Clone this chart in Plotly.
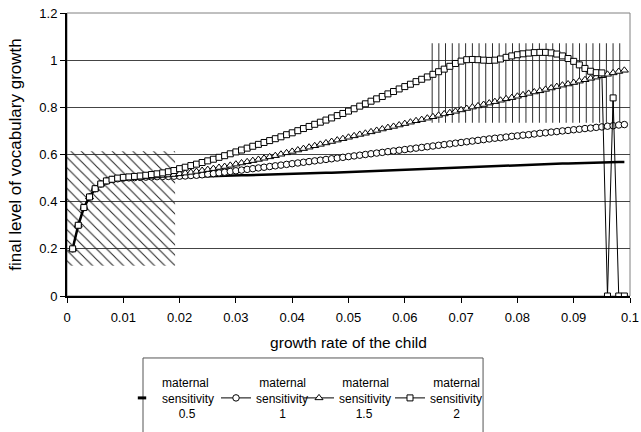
import plotly.graph_objects as go

# growth rate of the child: 0.001 ... 0.099
growth_rate = [round(i / 1000, 3) for i in range(1, 100)]

sens_05 = [0.200, 0.300, 0.375, 0.420, 0.455, 0.475, 0.487, 0.494, 0.497, 0.499,
           0.500, 0.501, 0.501, 0.502, 0.502, 0.503, 0.503, 0.504, 0.504, 0.505,
           0.505, 0.506, 0.506, 0.507, 0.508, 0.508, 0.509, 0.510, 0.510, 0.511,
           0.512, 0.512, 0.513, 0.514, 0.514, 0.515, 0.516, 0.517, 0.517, 0.518,
           0.519, 0.520, 0.520, 0.521, 0.522, 0.523, 0.523, 0.524, 0.525, 0.526,
           0.527, 0.528, 0.529, 0.530, 0.531, 0.532, 0.533, 0.534, 0.535, 0.536,
           0.537, 0.538, 0.539, 0.540, 0.541, 0.542, 0.543, 0.544, 0.545, 0.546,
           0.547, 0.548, 0.549, 0.550, 0.551, 0.552, 0.553, 0.554, 0.555, 0.556,
           0.557, 0.557, 0.558, 0.559, 0.560, 0.560, 0.561, 0.562, 0.562, 0.563,
           0.564, 0.564, 0.565, 0.566, 0.566, 0.567, 0.567, 0.568, 0.568]

sens_1 = [0.200, 0.300, 0.375, 0.420, 0.455, 0.475, 0.487, 0.494, 0.497, 0.500,
          0.501, 0.502, 0.503, 0.504, 0.505, 0.506, 0.507, 0.507, 0.508, 0.508,
          0.509, 0.511, 0.512, 0.514, 0.517, 0.519, 0.522, 0.525, 0.528, 0.531,
          0.534, 0.537, 0.540, 0.543, 0.546, 0.549, 0.552, 0.555, 0.558, 0.561,
          0.564, 0.567, 0.570, 0.573, 0.576, 0.579, 0.582, 0.585, 0.588, 0.591,
          0.594, 0.597, 0.600, 0.603, 0.606, 0.609, 0.612, 0.615, 0.618, 0.621,
          0.624, 0.627, 0.630, 0.633, 0.636, 0.639, 0.642, 0.645, 0.648, 0.651,
          0.654, 0.657, 0.660, 0.663, 0.666, 0.669, 0.671, 0.674, 0.677, 0.679,
          0.682, 0.684, 0.687, 0.690, 0.692, 0.695, 0.697, 0.700, 0.702, 0.705,
          0.707, 0.710, 0.712, 0.715, 0.717, 0.720, 0.722, 0.725, 0.727]

sens_15 = [0.200, 0.300, 0.375, 0.420, 0.455, 0.475, 0.487, 0.494, 0.497, 0.500,
           0.501, 0.502, 0.503, 0.505, 0.507, 0.509, 0.511, 0.513, 0.515, 0.518,
           0.521, 0.524, 0.528, 0.532, 0.536, 0.540, 0.545, 0.549, 0.554, 0.559,
           0.564, 0.569, 0.574, 0.579, 0.584, 0.590, 0.595, 0.601, 0.607, 0.613,
           0.619, 0.625, 0.631, 0.637, 0.643, 0.649, 0.655, 0.661, 0.667, 0.673,
           0.679, 0.685, 0.690, 0.696, 0.702, 0.708, 0.714, 0.719, 0.725, 0.731,
           0.737, 0.743, 0.748, 0.754, 0.760, 0.766, 0.772, 0.777, 0.783, 0.789,
           0.795, 0.801, 0.806, 0.812, 0.818, 0.824, 0.830, 0.836, 0.841, 0.847,
           0.853, 0.859, 0.865, 0.870, 0.876, 0.882, 0.888, 0.894, 0.899, 0.905,
           0.911, 0.917, 0.923, 0.928, 0.934, 0.940, 0.946, 0.952, 0.957]

sens_2 = [0.200, 0.300, 0.375, 0.420, 0.455, 0.475, 0.488, 0.495, 0.500, 0.503,
          0.505, 0.507, 0.509, 0.512, 0.515, 0.518, 0.522, 0.527, 0.532, 0.540,
          0.546, 0.553, 0.559, 0.566, 0.573, 0.580, 0.588, 0.595, 0.603, 0.611,
          0.619, 0.627, 0.635, 0.643, 0.651, 0.659, 0.667, 0.675, 0.684, 0.692,
          0.701, 0.710, 0.719, 0.728, 0.737, 0.746, 0.755, 0.765, 0.774, 0.784,
          0.794, 0.805, 0.815, 0.826, 0.836, 0.846, 0.857, 0.867, 0.878, 0.888,
          0.898, 0.909, 0.919, 0.929, 0.940, 0.951, 0.962, 0.974, 0.986, 0.996,
          1.002, 1.003, 1.002, 1.000, 0.999, 1.000, 1.005, 1.012, 1.018, 1.023,
          1.027, 1.030, 1.032, 1.033, 1.033, 1.031, 1.026, 1.018, 1.007, 0.995,
          0.980, 0.965, 0.953, 0.947, 0.946, 0.000, 0.840, 0.000, 0.000]

NB = "\u00a0"
series_names = ["maternal<br>sensitivity<br>" + NB * 5 + "0.5",
                NB + "maternal<br>sensitivity<br>" + NB * 7 + "1",
                NB + "maternal<br>sensitivity<br>" + NB * 5 + "1.5",
                NB + "maternal<br>sensitivity<br>" + NB * 7 + "2"]

x_ticks = [0, 0.01, 0.02, 0.03, 0.04, 0.05, 0.06, 0.07, 0.08, 0.09, 0.1]
x_tick_text = ["0", "0.01", "0.02", "0.03", "0.04", "0.05", "0.06", "0.07", "0.08", "0.09", "0.1"]
y_ticks = [0, 0.2, 0.4, 0.6, 0.8, 1.0, 1.2]
y_tick_text = ["0", "0.2", "0.4", "0.6", "0.8", "1", "1.2"]

# highlighted regions: [x0, x1], [y0, y1]
hatch_x = [0.0, 0.0192]
hatch_y = [0.128, 0.614]
vline_x = [0.0645, 0.0985]
vline_y = [0.735, 1.072]

fig = go.Figure()

fig.add_trace(go.Bar(
    x=[(hatch_x[0] + hatch_x[1]) / 2], y=[hatch_y[1] - hatch_y[0]], base=[hatch_y[0]],
    width=[hatch_x[1] - hatch_x[0]], showlegend=False, hoverinfo="skip",
    marker=dict(color="rgba(0,0,0,0)", line=dict(width=0),
                pattern=dict(shape="\\", size=7.3, solidity=0.14,
                             fgcolor="#222", bgcolor="rgba(0,0,0,0)", fillmode="replace"))))
fig.add_trace(go.Bar(
    x=[(vline_x[0] + vline_x[1]) / 2], y=[vline_y[1] - vline_y[0]], base=[vline_y[0]],
    width=[vline_x[1] - vline_x[0]], showlegend=False, hoverinfo="skip",
    marker=dict(color="rgba(0,0,0,0)", line=dict(width=0),
                pattern=dict(shape="|", size=6.7, solidity=0.15,
                             fgcolor="#222", bgcolor="rgba(0,0,0,0)", fillmode="replace"))))

# maternal sensitivity 0.5: thick line; its legend key is a short dash (legend-only proxy)
fig.add_trace(go.Scatter(x=growth_rate, y=sens_05, mode="lines", name=series_names[0],
                         showlegend=False, legendgroup="s05",
                         line=dict(color="black", width=2.5)))
fig.add_trace(go.Scatter(x=[None], y=[None], mode="markers", name=series_names[0],
                         legendgroup="s05", legendwidth=49, hoverinfo="skip",
                         marker=dict(symbol="line-ew", size=6,
                                     line=dict(color="black", width=3))))
fig.add_trace(go.Scatter(x=growth_rate, y=sens_1, mode="lines+markers", name=series_names[1],
                         legendwidth=38,
                         line=dict(color="black", width=1),
                         marker=dict(symbol="circle", size=6.5, color="white",
                                     line=dict(color="black", width=1))))
fig.add_trace(go.Scatter(x=growth_rate, y=sens_15, mode="lines+markers", name=series_names[2],
                         legendwidth=46,
                         line=dict(color="black", width=1),
                         marker=dict(symbol="triangle-up", size=7, color="white",
                                     line=dict(color="black", width=1))))
fig.add_trace(go.Scatter(x=growth_rate, y=sens_2, mode="lines+markers", name=series_names[3],
                         legendwidth=52,
                         line=dict(color="black", width=1),
                         marker=dict(symbol="square", size=6, color="white",
                                     line=dict(color="black", width=1))))

font_family = "Liberation Sans, Arial, sans-serif"

fig.update_layout(
    width=641, height=432,
    margin=dict(l=67, r=11, t=13, b=136, autoexpand=False),
    paper_bgcolor="white", plot_bgcolor="white",
    barmode="overlay",
    font=dict(family=font_family, color="black", size=13),
    xaxis=dict(range=[0, 0.1], tickvals=x_ticks, ticktext=x_tick_text,
               ticks="outside", ticklen=5, tickcolor="black", tickwidth=1,
               showline=True, linecolor="black", linewidth=1.5,
               showgrid=False, zeroline=False, ticklabelstandoff=4,
               ticklabeloverflow="allow",
               tickfont=dict(size=13), automargin=False,
               title=dict(text="growth rate of the child", font=dict(size=15.5), standoff=13)),
    yaxis=dict(range=[0, 1.2], tickvals=y_ticks, ticktext=y_tick_text,
               ticks="outside", ticklen=5, tickcolor="black", tickwidth=1,
               showline=True, linecolor="black", linewidth=2,
               showgrid=True, gridcolor="#444", gridwidth=1, zeroline=False,
               ticklabeloverflow="allow",
               tickfont=dict(size=13), automargin=False,
               title=dict(text="final level of vocabulary growth", font=dict(size=17), standoff=13)),
    legend=dict(orientation="h", x=0.0977, y=-0.2544, xanchor="left", yanchor="top",
                font=dict(size=12, family=font_family), bgcolor="rgba(0,0,0,0)",
                borderwidth=0, valign="middle", tracegroupgap=0, itemclick=False,
                itemdoubleclick=False),
    shapes=[
        dict(type="rect", xref="paper", yref="paper", x0=0, x1=1, y0=0, y1=1,
             line=dict(color="#808080", width=1), layer="below"),
        dict(type="rect", xref="paper", yref="paper", x0=0.135, x1=0.739, y0=-0.219, y1=-0.6,
             line=dict(color="#555", width=1)),
    ],
)

fig.write_html("out.html", config={"displayModeBar": False},
               post_script="document.body.style.margin='0';document.body.style.overflow='hidden';")
